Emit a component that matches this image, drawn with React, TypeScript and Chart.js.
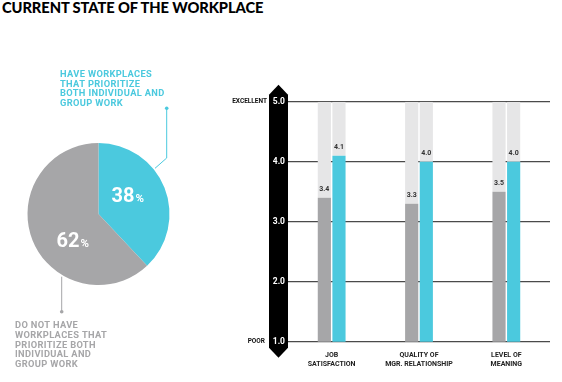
import React, { useEffect, useRef } from "react";
import { Chart, registerables } from "chart.js";

Chart.register(...registerables);

const TITLE = "CURRENT STATE OF THE WORKPLACE";

// Pie data
const pieLabels = ["Have workplaces that prioritize both", "Do not have"];
const pieValues = [38, 62];
const pieTextHave = ["HAVE WORKPLACES", "THAT PRIORITIZE", "BOTH INDIVIDUAL AND", "GROUP WORK"];
const pieTextNot = ["DO NOT HAVE", "WORKPLACES THAT", "PRIORITIZE BOTH", "INDIVIDUAL AND", "GROUP WORK"];

// Bar data
const barCategories: string[][] = [
  ["JOB", "SATISFACTION"],
  ["QUALITY OF", "MGR. RELATIONSHIP"],
  ["LEVEL OF", "MEANING"],
];
const notPrioritized = [3.4, 3.3, 3.5];
const prioritized = [4.1, 4.0, 4.0];
const scaleMin = 1;
const scaleMax = 5;
const scaleEndLabels = { min: "POOR", max: "EXCELLENT" };

const CYAN = "#4bc9de";
const GRAY = "#a6a6a8";
const LIGHT = "#e6e6e7";
const FONT = "Lato, 'Open Sans', sans-serif";
const CFONT = "Roboto, 'Open Sans', sans-serif";

export default function App() {
  const pieRef = useRef<HTMLCanvasElement>(null);
  const barRef = useRef<HTMLCanvasElement>(null);

  useEffect(() => {
    const pieLabelPlugin = {
      id: "pieLabels",
      afterDraw(chart: any) {
        const ctx = chart.ctx;
        const arc = chart.getDatasetMeta(0).data[0];
        const cx = arc.x;
        const cy = arc.y;
        ctx.save();
        // percentage labels
        const drawPct = (val: number, x: number, baseline: number) => {
          ctx.fillStyle = "#ffffff";
          ctx.textBaseline = "alphabetic";
          ctx.textAlign = "left";
          ctx.font = `bold 20px ${CFONT}`;
          const s = String(val);
          ctx.fillText(s, x, baseline);
          const w = ctx.measureText(s).width;
          ctx.font = `bold 11.5px ${CFONT}`;
          ctx.fillText("%", x + w + 1, baseline);
        };
        drawPct(pieValues[0], cx + 13, cy - 12.5);
        drawPct(pieValues[1], cx - 42, cy + 32.5);

        // cyan leader
        ctx.strokeStyle = CYAN;
        ctx.fillStyle = CYAN;
        ctx.lineWidth = 1;
        ctx.beginPath();
        ctx.moveTo(cx + 68.2, cy - 105.7);
        ctx.lineTo(cx + 68.2, cy - 56);
        ctx.lineTo(cx + 56.5, cy - 45.7);
        ctx.stroke();
        ctx.beginPath();
        ctx.arc(cx + 68.2, cy - 105.7, 1.8, 0, Math.PI * 2);
        ctx.fill();
        // gray leader
        ctx.strokeStyle = GRAY;
        ctx.fillStyle = GRAY;
        ctx.beginPath();
        ctx.moveTo(cx - 36.8, cy + 62.7);
        ctx.lineTo(cx - 36.8, cy + 97.7);
        ctx.stroke();
        ctx.beginPath();
        ctx.arc(cx - 36.8, cy + 97.7, 1.8, 0, Math.PI * 2);
        ctx.fill();

        // texts
        ctx.font = `bold 9.3px ${CFONT}`;
        (ctx as any).letterSpacing = "0.35px";
        ctx.textAlign = "left";
        ctx.textBaseline = "middle";
        ctx.fillStyle = CYAN;
        pieTextHave.forEach((t, i) => ctx.fillText(t, 60, 75 + i * 9.4));
        ctx.fillStyle = GRAY;
        pieTextNot.forEach((t, i) => ctx.fillText(t, 15, 326 + i * 9.7));
        ctx.restore();
      },
    };

    const pie = new Chart(pieRef.current!, {
      type: "pie",
      data: {
        labels: pieLabels,
        datasets: [
          {
            data: pieValues,
            backgroundColor: [CYAN, GRAY],
            borderWidth: 0,
          },
        ],
      },
      options: {
        responsive: false,
        animation: false,
        layout: { padding: { left: 27.5, right: 60.5, top: 143, bottom: 97 } },
        plugins: { legend: { display: false }, tooltip: { enabled: false } },
      },
      plugins: [pieLabelPlugin],
    });

    const bandPlugin = {
      id: "band",
      beforeDraw(chart: any) {
        const ctx = chart.ctx;
        const ys = chart.scales.y;
        const top = ys.getPixelForValue(scaleMax);
        const bot = ys.getPixelForValue(scaleMin);
        const right = chart.chartArea.left;
        const left = right - 19;
        const mid = (left + right) / 2;
        ctx.save();
        ctx.fillStyle = "#000";
        ctx.beginPath();
        ctx.moveTo(mid, top - 17);
        ctx.lineTo(right, top - 7);
        ctx.lineTo(right, bot + 6);
        ctx.lineTo(mid, bot + 16);
        ctx.lineTo(left, bot + 6);
        ctx.lineTo(left, top - 7);
        ctx.closePath();
        ctx.fill();
        ctx.font = `bold 6.5px ${CFONT}`;
        ctx.textAlign = "right";
        ctx.textBaseline = "middle";
        ctx.fillStyle = "#111";
        ctx.fillText(scaleEndLabels.max, left - 2, top);
        ctx.fillText(scaleEndLabels.min, left - 4, bot);
        ctx.restore();
      },
      afterDatasetsDraw(chart: any) {
        const ctx = chart.ctx;
        ctx.save();
        ctx.font = `bold 7px ${CFONT}`;
        ctx.textAlign = "center";
        ctx.textBaseline = "middle";
        ctx.fillStyle = "#333";
        [0, 2].forEach((di) => {
          const meta = chart.getDatasetMeta(di);
          const vals = chart.data.datasets[di].data;
          meta.data.forEach((el: any, i: number) => {
            ctx.fillText(Number(vals[i]).toFixed(1), el.x, el.y - 8);
          });
        });
        ctx.restore();
      },
    };

    const bar = new Chart(barRef.current!, {
      type: "bar",
      data: {
        labels: barCategories,
        datasets: [
          {
            label: "Do not prioritize",
            data: notPrioritized,
            backgroundColor: GRAY,
            stack: "a",
            categoryPercentage: 0.335,
            barPercentage: 0.9,
          },
          {
            label: "bg a",
            data: notPrioritized.map((v) => scaleMax - v),
            backgroundColor: LIGHT,
            stack: "a",
            categoryPercentage: 0.335,
            barPercentage: 0.9,
          },
          {
            label: "Prioritize",
            data: prioritized,
            backgroundColor: CYAN,
            stack: "b",
            categoryPercentage: 0.335,
            barPercentage: 0.9,
          },
          {
            label: "bg b",
            data: prioritized.map((v) => scaleMax - v),
            backgroundColor: LIGHT,
            stack: "b",
            categoryPercentage: 0.335,
            barPercentage: 0.9,
          },
        ],
      },
      options: {
        responsive: false,
        animation: false,
        layout: { padding: { left: 0, right: 12, top: 31.7, bottom: 0 } },
        plugins: { legend: { display: false }, tooltip: { enabled: false } },
        scales: {
          x: {
            stacked: true,
            grid: { display: false },
            border: { display: false },
            ticks: {
              color: "#222",
              font: { family: CFONT, size: 7, weight: "bold", lineHeight: 1.3 },
              padding: 1,
              maxRotation: 0,
              autoSkip: false,
            },
            afterFit: (s: any) => {
              s.height = 40.3;
            },
          },
          y: {
            stacked: true,
            min: scaleMin,
            max: scaleMax,
            grid: { color: "#4a4a4a", lineWidth: 1.3, drawTicks: false },
            border: { display: false },
            ticks: {
              stepSize: 1,
              color: "#ffffff",
              padding: 3,
              font: { family: CFONT, size: 8.5, weight: "bold" },
              callback: (v: any) => Number(v).toFixed(1),
            },
            afterFit: (s: any) => {
              s.width = 68;
            },
          },
        },
      },
      plugins: [bandPlugin],
    });

    return () => {
      pie.destroy();
      bar.destroy();
    };
  }, []);

  return (
    <div
      style={{
        position: "fixed",
        left: 0,
        top: 0,
        width: 562,
        height: 382,
        background: "#fff",
        overflow: "hidden",
      }}
    >
      <div
        style={{
          position: "absolute",
          left: 2,
          top: -2,
          fontFamily: FONT,
          fontWeight: 900,
          fontSize: 14.7,
          letterSpacing: -0.1,
          color: "#000",
          whiteSpace: "nowrap",
        }}
      >
        {TITLE}
      </div>
      <canvas
        ref={pieRef}
        width={230}
        height={382}
        style={{ position: "absolute", left: 0, top: 0, width: 230, height: 382 }}
      />
      <canvas
        ref={barRef}
        width={342}
        height={312}
        style={{ position: "absolute", left: 220, top: 70, width: 342, height: 312 }}
      />
    </div>
  );
}
